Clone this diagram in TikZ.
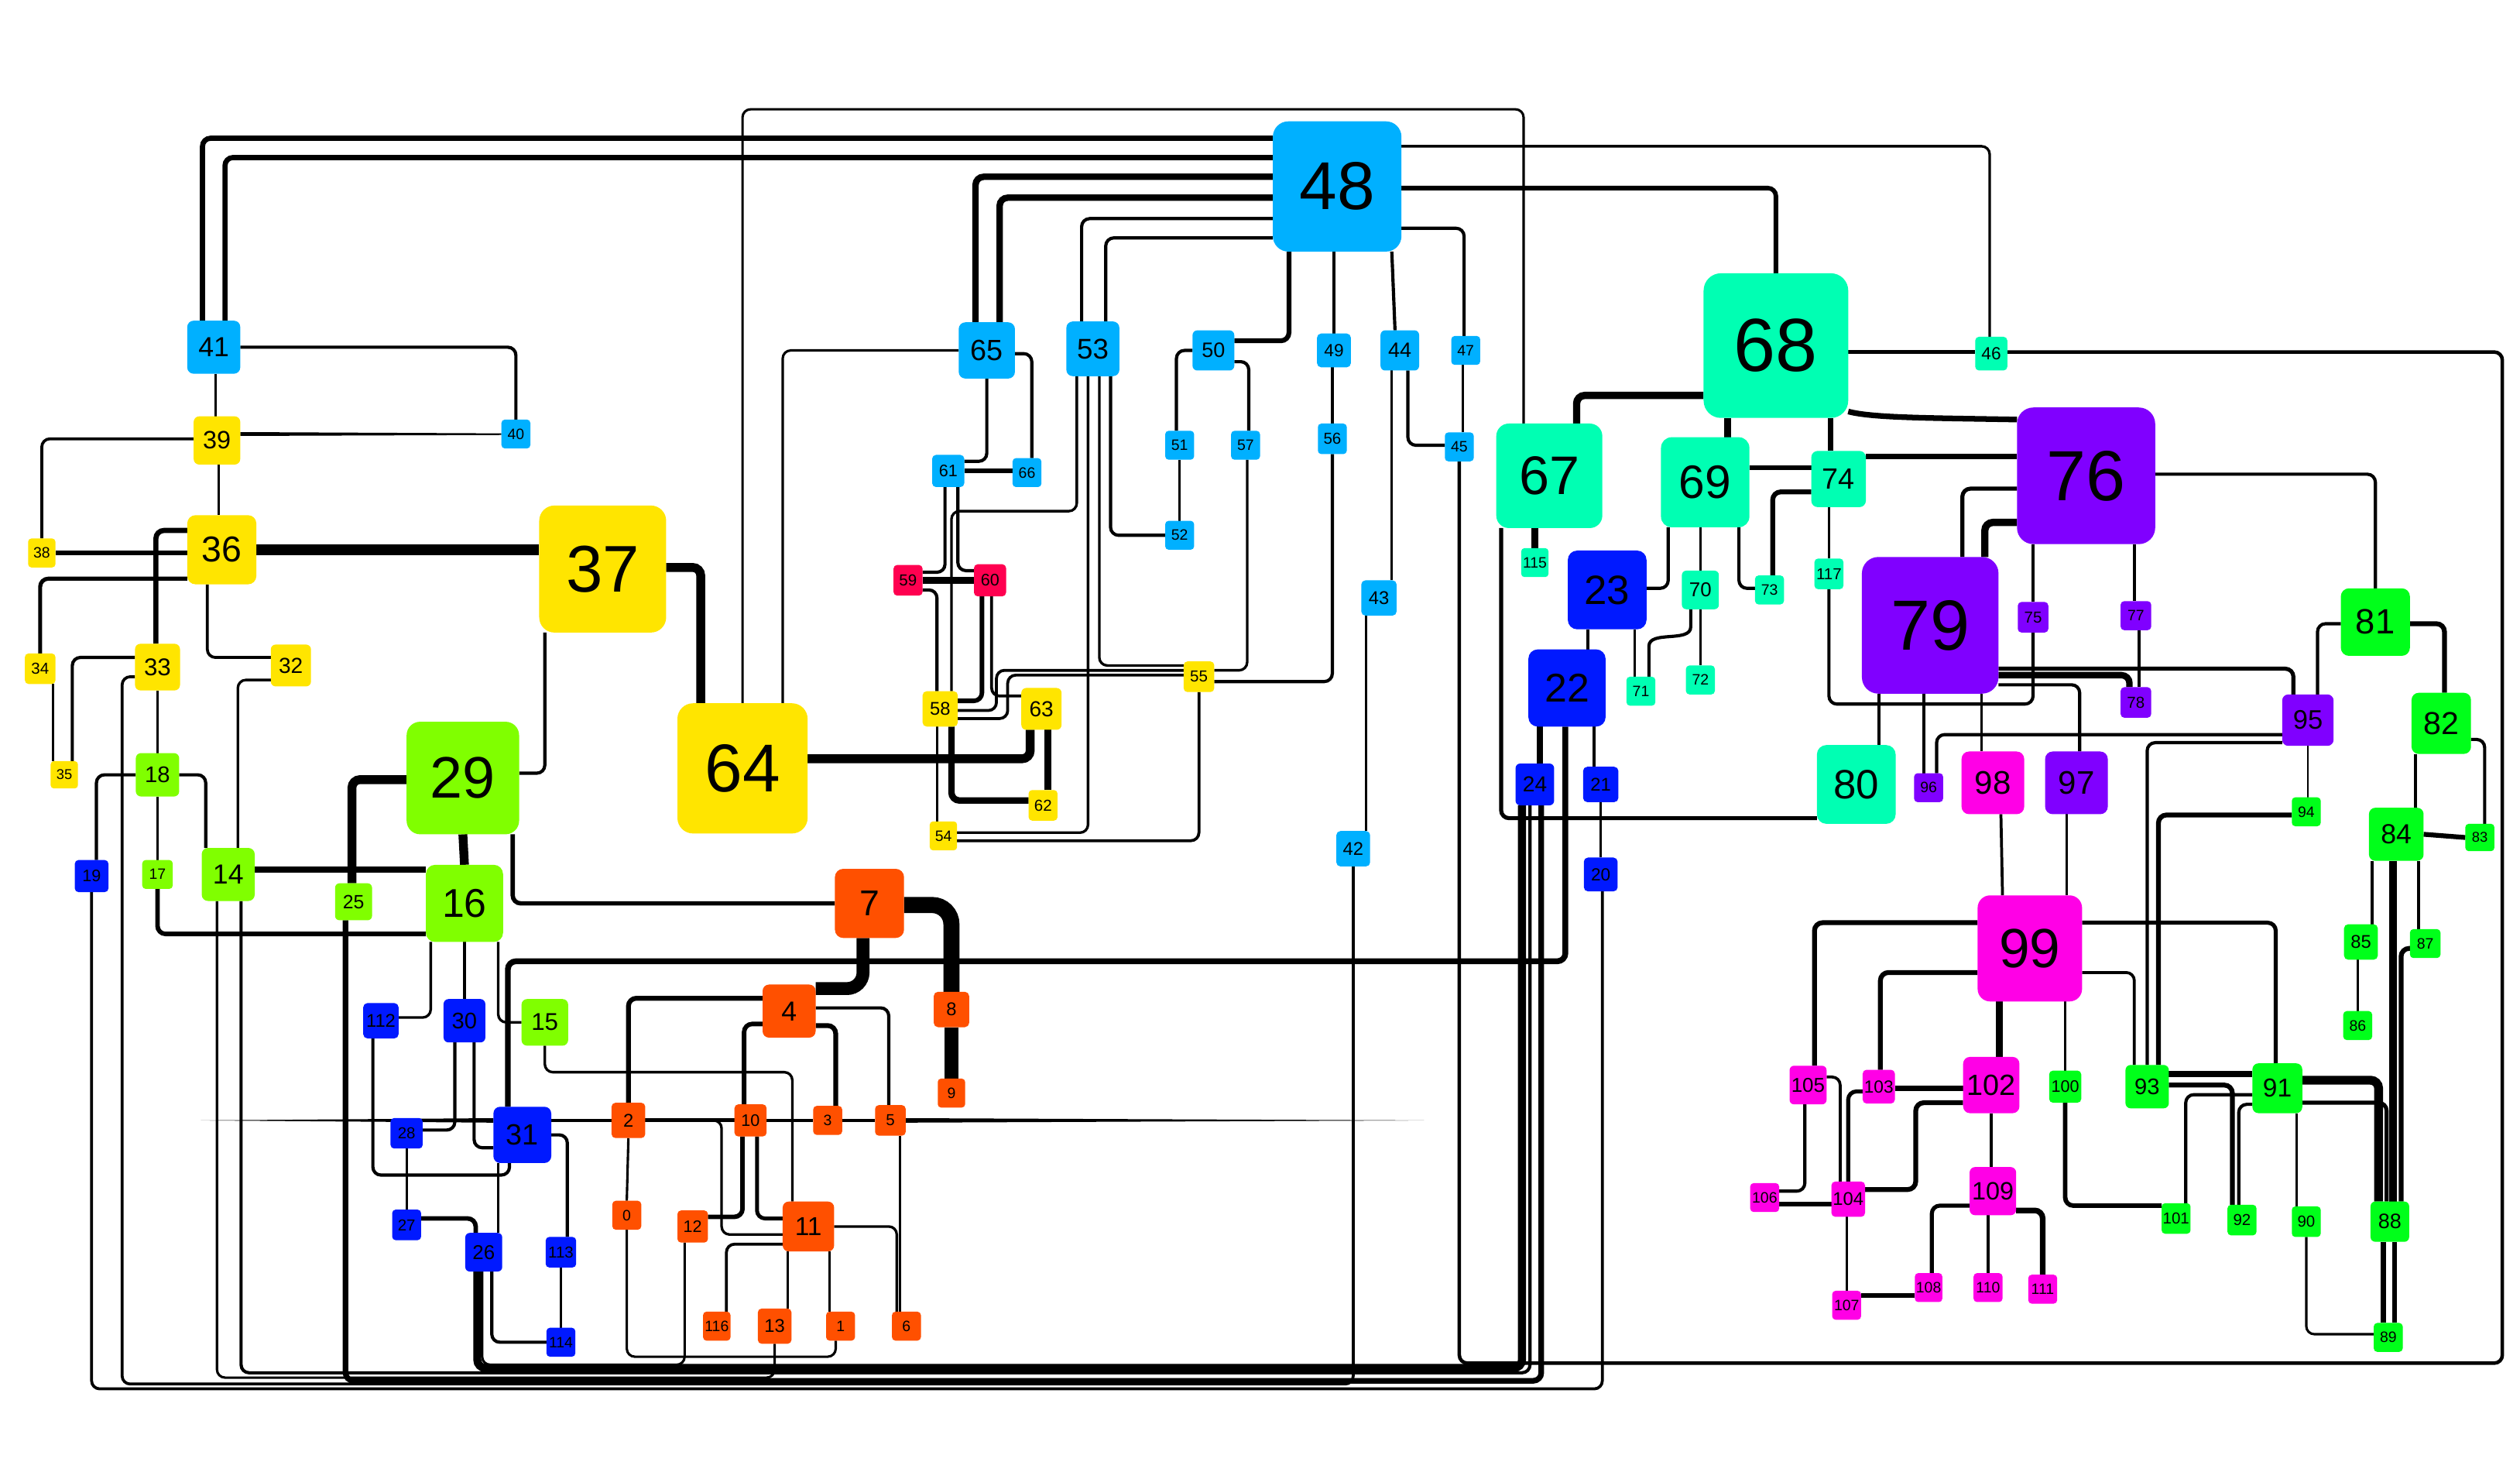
\documentclass[tikz,border=0pt]{standalone}
\usepackage{fontspec}
\setmainfont{Liberation Sans}
\pgfdeclarelayer{bg}
\pgfsetlayers{bg,main}
\definecolor{cB}{HTML}{00B0FF}
\definecolor{cY}{HTML}{FFE500}
\definecolor{cR}{HTML}{FF0050}
\definecolor{cL}{HTML}{80FF00}
\definecolor{cD}{HTML}{0019FF}
\definecolor{cO}{HTML}{FF5000}
\definecolor{cA}{HTML}{00FFB3}
\definecolor{cP}{HTML}{8000FF}
\definecolor{cM}{HTML}{FF00E6}
\definecolor{cG}{HTML}{00FF1A}
\tikzset{box/.style={draw=none, inner sep=0pt, outer sep=0pt, text=black},
  lnk/.style={draw=black, line width=#1pt, rounded corners=5pt}}
\newcommand\mynode[6]{%
  \pgfmathsetmacro\fsz{0.52*#5}%
  \pgfmathsetmacro\rcr{0.12*min(#4,#5)}%
  \node[box, fill=#6, minimum width=#4pt, minimum height=#5pt, rounded corners=\rcr pt,
    font=\fontsize{\fsz}{\fsz}\selectfont] (n#1) at (#2,#3) {#1};}
\begin{document}
\begin{tikzpicture}[x=1pt,y=-1pt]
\useasboundingbox (0,0) rectangle (1568,920);
% cyan
\mynode{48}{832}{116}{80}{81}{cB}
\mynode{41}{133}{216}{33}{33}{cB}
\mynode{40}{321}{270}{18}{18}{cB}
\mynode{65}{614}{218}{35}{35}{cB}
\mynode{53}{680}{217}{33}{34}{cB}
\mynode{50}{755}{218}{26}{25}{cB}
\mynode{49}{830}{218}{21}{21}{cB}
\mynode{44}{871}{218}{24}{25}{cB}
\mynode{47}{912}{218}{18}{18}{cB}
\mynode{61}{590}{293}{20}{20}{cB}
\mynode{66}{639}{294}{18}{18}{cB}
\mynode{51}{734}{277}{18}{18}{cB}
\mynode{57}{775}{277}{18}{18}{cB}
\mynode{56}{829}{273}{18}{19}{cB}
\mynode{45}{908}{278}{18}{18}{cB}
\mynode{52}{734}{333}{18}{18}{cB}
\mynode{43}{858}{372}{22}{22}{cB}
\mynode{42}{842}{528}{21}{22}{cB}
% yellow
\mynode{39}{135}{274}{29}{30}{cY}
\mynode{38}{26}{344}{17}{18}{cY}
\mynode{36}{138}{342}{43}{43}{cY}
\mynode{37}{375}{354}{79}{79}{cY}
\mynode{34}{25}{416}{19}{19}{cY}
\mynode{33}{98}{415}{28}{29}{cY}
\mynode{32}{181}{414}{25}{26}{cY}
\mynode{35}{40}{482}{17}{17}{cY}
\mynode{64}{462}{478}{81}{81}{cY}
\mynode{58}{585}{441}{22}{22}{cY}
\mynode{63}{648}{441}{25}{26}{cY}
\mynode{55}{746}{421}{19}{19}{cY}
\mynode{62}{649}{501}{18}{19}{cY}
\mynode{54}{587}{520}{17}{18}{cY}
% red
\mynode{59}{565}{361}{18}{19}{cR}
\mynode{60}{616}{361}{20}{20}{cR}
% lime
\mynode{18}{98}{482}{27}{27}{cL}
\mynode{17}{98}{544}{19}{18}{cL}
\mynode{14}{142}{544}{33}{33}{cL}
\mynode{29}{288}{484}{70}{70}{cL}
\mynode{25}{220}{561}{23}{23}{cL}
\mynode{16}{289}{562}{48}{48}{cL}
\mynode{15}{339}{636}{29}{29}{cL}
% blue
\mynode{19}{57}{545}{21}{20}{cD}
\mynode{112}{237}{635}{22}{22}{cD}
\mynode{30}{289}{635}{26}{27}{cD}
\mynode{28}{253}{705}{20}{19}{cD}
\mynode{31}{325}{706}{36}{35}{cD}
\mynode{27}{253}{762}{18}{19}{cD}
\mynode{26}{301}{779}{23}{24}{cD}
\mynode{113}{349}{779}{19}{19}{cD}
\mynode{114}{349}{835}{18}{18}{cD}
\mynode{23}{1000}{367}{49}{49}{cD}
\mynode{22}{975}{428}{48}{48}{cD}
\mynode{24}{955}{488}{24}{26}{cD}
\mynode{21}{996}{488}{22}{22}{cD}
\mynode{20}{996}{544}{21}{21}{cD}
% orange
\mynode{7}{541}{562}{43}{43}{cO}
\mynode{4}{491}{629}{33}{33}{cO}
\mynode{8}{592}{628}{22}{22}{cO}
\mynode{9}{592}{680}{17}{18}{cO}
\mynode{2}{391}{697}{21}{22}{cO}
\mynode{10}{467}{697}{20}{20}{cO}
\mynode{3}{515}{697}{18}{18}{cO}
\mynode{5}{554}{697}{19}{19}{cO}
\mynode{0}{390}{756}{18}{18}{cO}
\mynode{12}{431}{763}{19}{20}{cO}
\mynode{11}{503}{763}{32}{31}{cO}
\mynode{116}{446}{825}{17}{18}{cO}
\mynode{13}{482}{825}{21}{22}{cO}
\mynode{1}{523}{825}{18}{18}{cO}
\mynode{6}{564}{825}{18}{18}{cO}
% aqua
\mynode{68}{1105}{215}{90}{90}{cA}
\mynode{46}{1239}{220}{20}{21}{cA}
\mynode{67}{964}{296}{66}{65}{cA}
\mynode{69}{1061}{300}{55}{56}{cA}
\mynode{74}{1144}{298}{34}{35}{cA}
\mynode{115}{955}{350}{17}{18}{cA}
\mynode{70}{1058}{367}{23}{24}{cA}
\mynode{73}{1101}{367}{18}{18}{cA}
\mynode{117}{1138}{357}{18}{19}{cA}
\mynode{72}{1058}{423}{18}{18}{cA}
\mynode{71}{1021}{430}{18}{18}{cA}
\mynode{80}{1155}{488}{49}{49}{cA}
% purple
\mynode{76}{1298}{296}{86}{85}{cP}
\mynode{79}{1201}{389}{85}{85}{cP}
\mynode{75}{1265}{384}{19}{19}{cP}
\mynode{77}{1329}{383}{19}{18}{cP}
\mynode{78}{1329}{437}{19}{19}{cP}
\mynode{95}{1436}{448}{32}{32}{cP}
\mynode{96}{1200}{490}{18}{18}{cP}
\mynode{97}{1292}{487}{39}{39}{cP}
% magenta
\mynode{98}{1240}{487}{39}{39}{cM}
\mynode{99}{1263}{590}{65}{66}{cM}
\mynode{102}{1239}{675}{35}{35}{cM}
\mynode{105}{1125}{675}{23}{24}{cM}
\mynode{103}{1169}{676}{20}{21}{cM}
\mynode{104}{1150}{746}{21}{22}{cM}
\mynode{106}{1098}{745}{18}{18}{cM}
\mynode{107}{1149}{812}{18}{18}{cM}
\mynode{108}{1200}{801}{17}{18}{cM}
\mynode{109}{1240}{741}{29}{30}{cM}
\mynode{110}{1237}{801}{18}{18}{cM}
\mynode{111}{1271}{802}{18}{18}{cM}
% green
\mynode{81}{1478}{387}{43}{42}{cG}
\mynode{82}{1519}{450}{37}{38}{cG}
\mynode{84}{1491}{519}{34}{33}{cG}
\mynode{83}{1543}{521}{18}{17}{cG}
\mynode{94}{1435}{505}{18}{18}{cG}
\mynode{85}{1469}{586}{21}{22}{cG}
\mynode{87}{1509}{587}{19}{18}{cG}
\mynode{86}{1467}{638}{18}{18}{cG}
\mynode{93}{1336}{676}{27}{27}{cG}
\mynode{91}{1417}{677}{31}{31}{cG}
\mynode{100}{1285}{676}{20}{20}{cG}
\mynode{101}{1354}{758}{18}{19}{cG}
\mynode{92}{1395}{759}{18}{19}{cG}
\mynode{90}{1435}{760}{18}{19}{cG}
\mynode{88}{1487}{760}{24}{25}{cG}
\mynode{89}{1486}{832}{18}{18}{cG}
\coordinate (tl) at (125,697);
\coordinate (tr) at (886,697);
\begin{pgfonlayer}{bg}
\fill[white] (0,0) rectangle (1568,920);
% top left
\draw[lnk=3.2] (n41.north -| 126,0) |- (n48.west |- 0,86);
\draw[lnk=3.2] (n41.north -| 140,0) |- (n48.west |- 0,98);
\draw[lnk=2] (n41.east) -| (n40.north);
\draw[lnk=1.4] (n41.south -| 134,0) -- (n39.north -| 134,0);
\fill (n39.east |- 0,268.8) -- (n40.west |- 0,269.6) -- (n40.west |- 0,270.6) -- (n39.east |- 0,271.2) -- cycle;
\draw[lnk=1.8] (n39.west |- 0,273) -| (n38.north);
\draw[lnk=1.4] (n39.south -| 136,0) -- (n36.north -| 136,0);
\draw[lnk=3] (n36.west |- 0,344) -- (n38.east |- 0,344);
\draw[lnk=7] (n36.east |- 0,342) -- (n37.west |- 0,342);
\draw[lnk=3.2] (n36.west |- 0,330) -| (n33.north -| 97,0);
\draw[lnk=2.5] (n36.west |- 0,360) -| (n34.north);
\draw[lnk=1.8] (n36.south -| 129,0) |- (n32.west |- 0,409);
\draw[lnk=5.5] (n37.east |- 0,353) -| (n64.north -| 436,0);
\draw[lnk=2] (n37.south -| 339,0) |- (n29.east |- 0,481);
\draw[lnk=2] (n33.west |- 0,409) -| (n35.north -| 45,0);
\draw[lnk=1.4] (n34.south -| 33,0) -- (n35.north -| 33,0);
\draw[lnk=1.4] (n33.south) -- (n18.north);
\draw[lnk=1.8] (n33.west |- 0,421) -| (76,861) -| (n42.south);
\draw[lnk=1.6] (n32.west |- 0,423) -| (n14.north -| 148,0);
\draw[lnk=2] (n18.east) -| (n14.north -| 128,0);
\draw[lnk=2] (n18.west) -| (n19.north -| 60,0);
\draw[lnk=1.4] (n18.south) -- (n17.north);
\draw[lnk=2.8] (n17.south) |- (n16.west |- 0,581);
\draw[lnk=3.7] (n14.east |- 0,541) -- (n16.west |- 0,541);
% bottom rails
\draw[lnk=1.8] (n19.south) -- (57,864) -- (997,864) -- (n20.south -| 997,0);
\draw[lnk=1.5] (n14.south -| 135,0) -- (135,857) -- (482,857) -- (n13.south);
\draw[lnk=2] (n14.south -| 150,0) -- (150,854) -- (952,854) -- (n24.south -| 952,0);
\draw[lnk=3.5] (n25.south -| 215,0) -- (215,859) -- (959,859) -- (n24.south -| 959,0);
\draw[lnk=5] (n26.south -| 297,0) -- (297,851) -- (947,851) -- (n24.south -| 947,0);
\draw[lnk=1.5] (n12.south -| 426,0) -- (426,849) -- (300,849) -- (n26.south -| 300,0);
\draw[lnk=1.5] (n0.south) -- (390,844) -- (520,844) -- (n1.south -| 520,0);
% cyan group
\draw[lnk=1.4] (n43.south -| 850,0) -- (n42.north -| 850,0);
\draw[lnk=1.4] (n44.south -| 866,0) -- (n43.north -| 866,0);
\draw[lnk=2] (n48.south -| 866,0) -- (n44.north -| 868,0);
\draw[lnk=1.8] (n48.south -| 830,0) -- (n49.north);
\draw[lnk=3] (n48.south -| 802,0) |- (n50.east |- 0,212);
\draw[lnk=2] (n48.east |- 0,142) -| (n47.north -| 911,0);
\draw[lnk=2.8] (n48.east |- 0,117) -| (n68.north);
\draw[lnk=1.6] (n48.east |- 0,91) -| (n46.north -| 1238,0);
\draw[lnk=4] (n48.west |- 0,110) -| (n65.north -| 607,0);
\draw[lnk=4] (n48.west |- 0,123) -| (n65.north -| 622,0);
\draw[lnk=2] (n48.west |- 0,136) -| (n53.north -| 673,0);
\draw[lnk=2] (n48.west |- 0,148) -| (n53.north -| 688,0);
\draw[lnk=1.5] (n64.north -| 462,0) -- (462,68) -- (948,68) -- (n67.north -| 948,0);
\draw[lnk=1.5] (n64.north -| 487,0) |- (n65.west);
\draw[lnk=5.5] (n64.east |- 0,472) -| (n63.south -| 641,0);
\draw[lnk=2.4] (n68.east |- 0,219) -- (n46.west |- 0,219);
\draw[lnk=2.2] (n46.east |- 0,219) -- (1557,219) -- (1557,848) -- (908,848) -- (n45.south -| 908,0);
\draw[lnk=2] (n44.south -| 876,0) |- (n45.west |- 0,277);
\draw[lnk=1.4] (n47.south -| 910,0) -- (n45.north -| 910,0);
\draw[lnk=1.6] (n49.south -| 829,0) -- (n56.north -| 829,0);
\draw[lnk=2] (n56.south -| 829,0) |- (n55.east |- 0,424);
\draw[lnk=2] (n50.west) -| (n51.north -| 732,0);
\draw[lnk=2] (n50.east |- 0,225) -| (n57.north -| 777,0);
\draw[lnk=1.4] (n51.south) -- (n52.north);
\draw[lnk=1.6] (n57.south -| 776,0) |- (n55.east |- 0,417);
\draw[lnk=2] (n53.south -| 691,0) |- (n52.west);
\draw[lnk=1.6] (n53.south -| 684,0) |- (n55.west |- 0,414);
\draw[lnk=1.6] (n53.south -| 677,0) |- (n54.east |- 0,518);
\draw[lnk=1.6] (n53.south -| 670,0) -- (670,318) -- (592,318) -- (n58.north -| 592,0);
\draw[lnk=1.8] (n55.south) |- (n54.east |- 0,523);
\draw[lnk=2] (n65.south) |- (n61.east |- 0,287);
\draw[lnk=2] (n65.east |- 0,220) -| (n66.north -| 642,0);
\draw[lnk=2.8] (n61.east |- 0,293) -- (n66.west |- 0,293);
\draw[lnk=2] (n61.south -| 588,0) |- (n59.east |- 0,356);
\draw[lnk=2] (n61.south -| 596,0) |- (n60.west |- 0,355);
\draw[lnk=4] (n59.east) -- (n60.west);
\draw[lnk=2] (n59.east |- 0,367) -| (n58.north -| 583,0);
\draw[lnk=2.8] (n60.south -| 611,0) |- (n58.east |- 0,436);
\draw[lnk=1.8] (n60.south -| 617,0) |- (n63.west |- 0,433);
\draw[lnk=1.8] (n58.east |- 0,442) -| (620,417) -- (n55.west |- 0,417);
\draw[lnk=1.8] (n58.east |- 0,447) -| (627,420) -- (n55.west |- 0,420);
\draw[lnk=4] (n58.south -| 592,0) |- (n62.west |- 0,498);
\draw[lnk=1.4] (n58.south -| 583,0) -- (n54.north -| 583,0);
\draw[lnk=4] (n63.south -| 652,0) -- (n62.north -| 652,0);
% middle left
\draw[lnk=5.5] (n29.south) -- (n16.north);
\draw[lnk=5.5] (n29.west |- 0,485) -| (n25.north -| 219,0);
\draw[lnk=2.7] (n29.south -| 319,0) |- (n7.west);
\draw[lnk=1.6] (n16.south -| 268,0) |- (n112.east |- 0,633);
\draw[lnk=1.6] (n16.south) -- (n30.north);
\draw[lnk=1.6] (n16.south -| 310,0) |- (n15.west);
\draw[lnk=1.6] (n15.south) -- (339,667) -- (493,667) -- (n11.north -| 493,0);
\draw[lnk=2] (n112.south -| 232,0) -- (232,731) -- (317,731) -- (n31.south -| 317,0);
\draw[lnk=2] (n30.south -| 283,0) |- (n28.east |- 0,703);
\draw[lnk=2] (n30.south -| 295,0) |- (n31.west |- 0,714);
\draw[lnk=1.4] (n28.south) -- (n27.north);
\draw[lnk=2.8] (n27.east |- 0,758) -| (n26.north -| 296,0);
\draw[lnk=1.4] (n31.south -| 310,0) -- (n26.north -| 310,0);
\draw[lnk=2] (n26.south -| 306,0) |- (n114.west);
\draw[lnk=2] (n31.east) -| (n113.north -| 353,0);
\draw[lnk=1.4] (n113.south) -- (n114.north);
\draw[lnk=3.6] (n31.north -| 316,0) -- (316,598) -- (974,598) -- (n22.south -| 974,0);
\fill (tl) -- (n31.west |- 0,695.6) -- (n31.west |- 0,698.4) -- cycle;
\draw[lnk=2] (n31.east |- 0,697) -- (n2.west);
\draw[lnk=2.4] (n2.east) -- (n10.west);
\draw[lnk=2] (n10.east) -- (n3.west);
\draw[lnk=2.2] (n3.east) -- (n5.west);
\fill (tr) -- (n5.east |- 0,695.6) -- (n5.east |- 0,698.4) -- cycle;
\draw[lnk=1.6] (n2.east) -| (449,768) -- (n11.west |- 0,768);
\draw[lnk=8, rounded corners=10pt] (n7.south -| 537,0) |- (n4.east |- 0,615);
\draw[lnk=10, rounded corners=12pt] (n7.east |- 0,563) -| (n8.north);
\draw[lnk=9] (n8.south) -- (n9.north);
\draw[lnk=3] (n4.west |- 0,621) -| (n2.north);
\draw[lnk=2.8] (n4.west |- 0,637) -| (n10.north -| 463,0);
\draw[lnk=3] (n4.east |- 0,638) -| (n3.north -| 520,0);
\draw[lnk=2] (n4.east |- 0,627) -| (n5.north -| 553,0);
\draw[lnk=1.5] (n2.south) -- (n0.north);
\draw[lnk=2.8] (n10.south -| 462,0) |- (n12.east |- 0,757);
\draw[lnk=2.4] (n10.south -| 471,0) |- (n11.west |- 0,758);
\draw[lnk=1.8] (n11.west |- 0,774) -| (n116.north -| 452,0);
\draw[lnk=1.6] (n11.south -| 490,0) -- (n13.north -| 490,0);
\draw[lnk=1.6] (n11.south -| 516,0) -- (n1.north -| 516,0);
\draw[lnk=1.6] (n11.east) -| (n6.north -| 558,0);
\draw[lnk=1.6] (n5.south -| 560,0) -- (n6.north -| 560,0);
% right
\draw[lnk=4.5] (n68.west |- 0,246) -| (n67.north -| 981,0);
\draw[lnk=4] (n68.south -| 1075,0) -- (n69.north -| 1075,0);
\draw[lnk=3.5] (n68.south -| 1139,0) -- (n74.north -| 1139,0);
\draw[lnk=3.5] (n68.east |- 0,256) .. controls (1165,260) and (1200,260) .. (n76.west |- 0,261);
\draw[lnk=4] (n67.south -| 955,0) -- (n115.north);
\draw[lnk=2.5] (n67.south -| 934,0) |- (n80.west |- 0,509);
\draw[lnk=2] (n69.south -| 1038,0) |- (n23.east |- 0,366);
\draw[lnk=1.6] (n69.south -| 1058,0) -- (n70.north);
\draw[lnk=2] (n69.south -| 1082,0) |- (n73.west |- 0,366);
\draw[lnk=2.8] (n69.east |- 0,291) -- (n74.west |- 0,291);
\draw[lnk=3] (n74.east |- 0,284) -- (n76.west |- 0,284);
\draw[lnk=3] (n74.west |- 0,306) -| (n73.north -| 1103,0);
\draw[lnk=1.5] (n74.south -| 1138,0) -- (n117.north);
\draw[lnk=2] (n117.south) -- (1138,438) -- (1265,438) -- (n75.south);
\draw[lnk=2] (n70.south -| 1052,0) -- (1052,385) .. controls (1052,400) and (1026,392) .. (1026,407) -- (n71.north -| 1026,0);
\draw[lnk=1.4] (n70.south) -- (n72.north);
\draw[lnk=1.8] (n23.south -| 988,0) -- (n22.north -| 988,0);
\draw[lnk=1.4] (n23.south -| 1017,0) -- (n71.north -| 1017,0);
\draw[lnk=4] (n22.south -| 958,0) -- (n24.north -| 958,0);
\draw[lnk=2] (n22.south -| 992,0) -- (n21.north -| 992,0);
\draw[lnk=1.5] (n21.south -| 996,0) -- (n20.north -| 996,0);
\draw[lnk=2.5] (n76.west |- 0,304) -| (n79.north -| 1221,0);
\draw[lnk=4.5] (n76.west |- 0,325) -| (n79.north -| 1235,0);
\draw[lnk=2] (n76.south -| 1265,0) -- (n75.north);
\draw[lnk=2] (n76.south -| 1328,0) -- (n77.north -| 1328,0);
\draw[lnk=2] (n76.east |- 0,295) -| (n81.north);
\draw[lnk=1.5] (n77.south -| 1331,0) -- (n78.north -| 1331,0);
\draw[lnk=4] (n79.east |- 0,420) -| (n78.north -| 1325,0);
\draw[lnk=2.5] (n79.east |- 0,416) -| (n95.north -| 1427,0);
\draw[lnk=2] (n79.east |- 0,426) -| (n97.north -| 1294,0);
\draw[lnk=2] (n79.south -| 1169,0) -- (n80.north -| 1169,0);
\draw[lnk=2] (n79.south -| 1197,0) -- (n96.north -| 1197,0);
\draw[lnk=1.6] (n79.south -| 1233,0) -- (n98.north -| 1233,0);
\draw[lnk=2] (n95.west |- 0,457) -| (n96.north -| 1205,0);
\draw[lnk=2] (n95.west |- 0,462) -| (n93.north -| 1336,0);
\draw[lnk=3] (n94.west |- 0,507) -| (n93.north -| 1343,0);
\draw[lnk=1.4] (n95.south -| 1436,0) -- (n94.north -| 1436,0);
\draw[lnk=2] (n95.north -| 1442,0) |- (n81.west |- 0,388);
\draw[lnk=3] (n81.east |- 0,388) -| (n82.north -| 1521,0);
\draw[lnk=2] (n82.east |- 0,460) -| (n83.north -| 1546,0);
\draw[lnk=1.8] (n82.south -| 1503,0) -- (n84.north -| 1503,0);
\draw[lnk=3] (n84.east |- 0,519) -- (n83.west |- 0,521);
\draw[lnk=1.8] (n84.south -| 1476,0) -- (n85.north -| 1476,0);
\draw[lnk=4.5] (n84.south -| 1489,0) -- (n88.north -| 1489,0);
\draw[lnk=2] (n84.south -| 1505,0) -- (n87.north -| 1505,0);
\draw[lnk=3] (n87.west |- 0,590) -| (n88.north -| 1494,0);
\draw[lnk=3] (n88.south -| 1483,0) -- (n89.north -| 1483,0);
\draw[lnk=3] (n88.south -| 1490,0) -- (n89.north -| 1490,0);
\draw[lnk=1.4] (n85.south -| 1467,0) -- (n86.north);
\draw[lnk=1.5] (n90.south -| 1435,0) |- (n89.west |- 0,830);
\draw[lnk=1.4] (n91.south -| 1429,0) -- (n90.north -| 1429,0);
\draw[lnk=2] (n91.west |- 0,687) -| (n92.north -| 1393,0);
\draw[lnk=3] (n93.east |- 0,675) -| (n92.north -| 1389,0);
\draw[lnk=2] (n91.west |- 0,681) -| (n101.north -| 1360,0);
\draw[lnk=4] (n93.east |- 0,668) -- (n91.west |- 0,668);
\draw[lnk=5.5] (n91.east |- 0,672) -| (n88.north -| 1480,0);
\draw[lnk=2.5] (n91.east |- 0,686) -| (n88.north -| 1485,0);
\draw[lnk=2.5] (n99.east |- 0,574) -| (n91.north -| 1416,0);
\draw[lnk=1.8] (n99.east |- 0,605) -| (n93.north -| 1328,0);
\draw[lnk=3] (n99.west |- 0,574) -| (n105.north -| 1129,0);
\draw[lnk=3] (n99.west |- 0,605) -| (n103.north -| 1170,0);
\draw[lnk=4] (n99.south -| 1244,0) -- (n102.north -| 1244,0);
\draw[lnk=1.5] (n99.south -| 1285,0) -- (n100.north);
\draw[lnk=1.8] (n98.south -| 1245,0) -- (n99.north -| 1246,0);
\draw[lnk=1.6] (n97.south -| 1286,0) -- (n99.north -| 1286,0);
\draw[lnk=3] (n103.east |- 0,677) -- (n102.west |- 0,677);
\draw[lnk=3] (n102.west |- 0,686) -| (1192,740) -- (n104.east |- 0,740);
\draw[lnk=1.8] (n105.east |- 0,670) -| (n104.north -| 1145,0);
\draw[lnk=2.5] (n103.west |- 0,679) -| (n104.north -| 1150,0);
\draw[lnk=2] (n105.south -| 1123,0) |- (n106.east |- 0,741);
\draw[lnk=3] (n106.east |- 0,749) -- (n104.west |- 0,749);
\draw[lnk=1.5] (n104.south -| 1149,0) -- (n107.north -| 1149,0);
\draw[lnk=3] (n107.east |- 0,806) -- (n108.west |- 0,806);
\draw[lnk=2.5] (n109.west |- 0,750) -| (n108.north -| 1202,0);
\draw[lnk=1.6] (n109.south -| 1237,0) -- (n110.north -| 1237,0);
\draw[lnk=3.5] (n109.east |- 0,753) -| (n111.north -| 1271,0);
\draw[lnk=1.8] (n102.south -| 1239,0) -- (n109.north -| 1239,0);
\draw[lnk=2.8] (n100.south) |- (n101.west |- 0,750);
\end{pgfonlayer}
\end{tikzpicture}
\end{document}
